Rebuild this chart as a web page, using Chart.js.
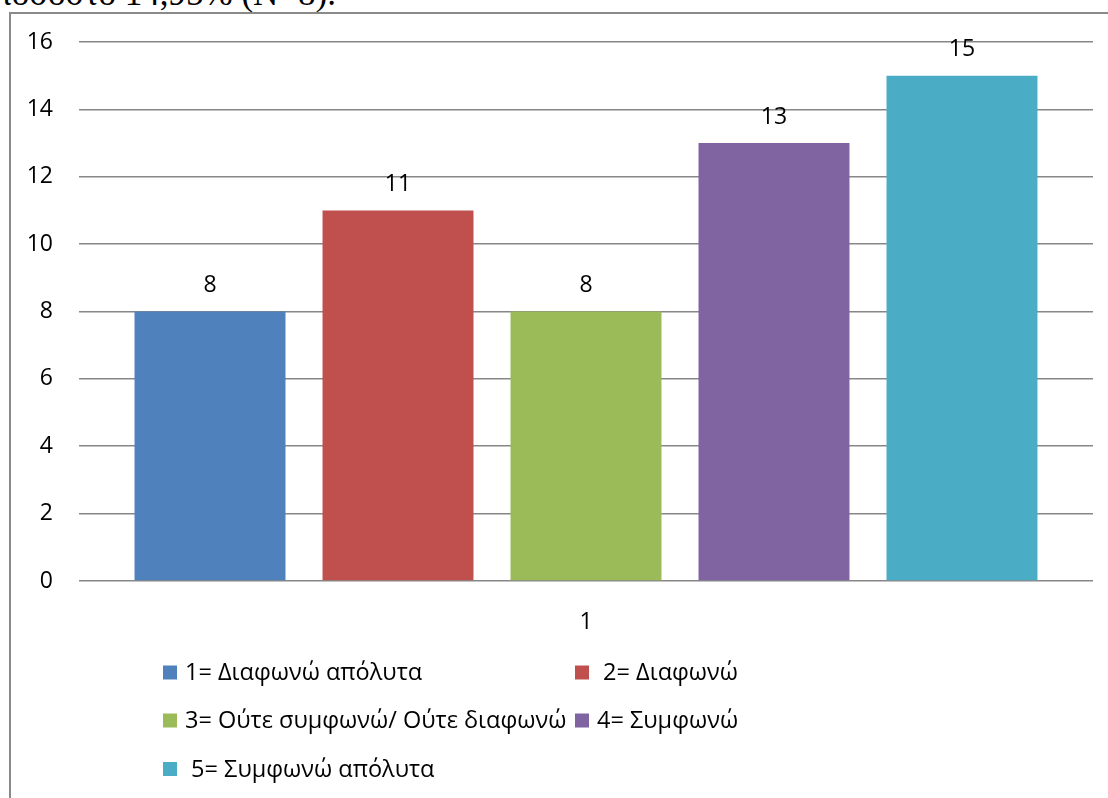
<!DOCTYPE html>
<html>
<head>
<meta charset="utf-8">
<script src="https://cdn.jsdelivr.net/npm/chart.js@4"></script>
<style>
  html, body { margin: 0; padding: 0; background: #fff; overflow: hidden; width: 1108px; height: 798px; }
  #caption { position: absolute; left: -6px; top: -26px; font-family: "Liberation Serif", serif; font-size: 35px; white-space: nowrap; color: #000; }
  #frame { position: absolute; left: 9px; top: 12px; width: 1300px; height: 1000px; border-left: 2px solid #8a8a8a; border-top: 2px solid #8a8a8a; }
  #wrap { position: absolute; left: 0; top: 0; width: 1108px; height: 798px; }
</style>
</head>
<body>
<div id="caption">ποσοστό 14,95% (Ν=8).</div>
<div id="frame"></div>
<div id="wrap"><canvas id="c" width="1108" height="798"></canvas></div>
<script>
// Survey answers on a 1–5 agreement scale, a single question
const categories = ['1'];
const seriesLabels = ['1= Διαφωνώ απόλυτα', ' 2= Διαφωνώ', '3= Ούτε συμφωνώ/ Ούτε διαφωνώ', '4= Συμφωνώ', ' 5= Συμφωνώ απόλυτα'];
const seriesValues = [8, 11, 8, 13, 15];
const seriesColors = ['#4F81BD', '#C0504D', '#9BBB59', '#8064A2', '#4BACC6'];
const yTickValues = [0, 2, 4, 6, 8, 10, 12, 14, 16];

const FONT = '"Open Sans", "Liberation Sans", sans-serif';
const FONT_SIZE = 23;
const LEGEND_FONT_SIZE = 23.5;

// value printed above every bar
const valueLabels = {
  id: 'valueLabels',
  afterDatasetsDraw(chart) {
    const ctx = chart.ctx;
    ctx.save();
    ctx.font = FONT_SIZE + 'px ' + FONT;
    ctx.fillStyle = '#000';
    ctx.textAlign = 'center';
    ctx.textBaseline = 'middle';
    chart.data.datasets.forEach((ds, i) => {
      chart.getDatasetMeta(i).data.forEach((bar, j) => {
        ctx.fillText(String(ds.data[j]), bar.x, bar.y - 26);
      });
    });
    ctx.restore();
  }
};

// two-column legend under the plot
const gridLegend = {
  id: 'gridLegend',
  afterDraw(chart) {
    const ctx = chart.ctx;
    const colX = [163, 575];
    const rowY = [672.5, 720.5, 769];
    const box = 14;
    ctx.save();
    ctx.font = LEGEND_FONT_SIZE + 'px ' + FONT;
    ctx.textBaseline = 'middle';
    ctx.textAlign = 'left';
    chart.data.datasets.forEach((ds, i) => {
      const x = colX[i % 2];
      const y = rowY[Math.floor(i / 2)];
      ctx.fillStyle = ds.backgroundColor;
      ctx.fillRect(x, y - box / 2, box, box);
      ctx.fillStyle = '#000';
      ctx.fillText(ds.label, x + 22, y + 1);
    });
    ctx.restore();
  }
};

new Chart(document.getElementById('c'), {
  type: 'bar',
  data: {
    labels: categories,
    datasets: seriesLabels.map((label, i) => ({
      label: label,
      data: [seriesValues[i]],
      backgroundColor: seriesColors[i],
      borderWidth: 0,
      categoryPercentage: 0.927,
      barPercentage: 0.803
    }))
  },
  options: {
    responsive: false,
    animation: false,
    devicePixelRatio: 1,
    layout: { padding: { left: 0, right: 15, top: 42, bottom: 0 } },
    plugins: { legend: { display: false }, tooltip: { enabled: false } },
    scales: {
      x: {
        grid: { display: false },
        border: { display: false },
        ticks: { color: '#000', font: { family: FONT, size: FONT_SIZE }, padding: 20 },
        afterFit(scale) { scale.height = 217; }
      },
      y: {
        min: 0,
        max: 16,
        afterBuildTicks(scale) { scale.ticks = yTickValues.map(v => ({ value: v })); },
        grid: { color: '#878787', lineWidth: 1.6, drawTicks: false },
        border: { display: false },
        ticks: { color: '#000', font: { family: FONT, size: FONT_SIZE }, padding: 26 },
        afterFit(scale) { scale.width = 79; }
      }
    }
  },
  plugins: [valueLabels, gridLegend]
});
</script>
</body>
</html>
